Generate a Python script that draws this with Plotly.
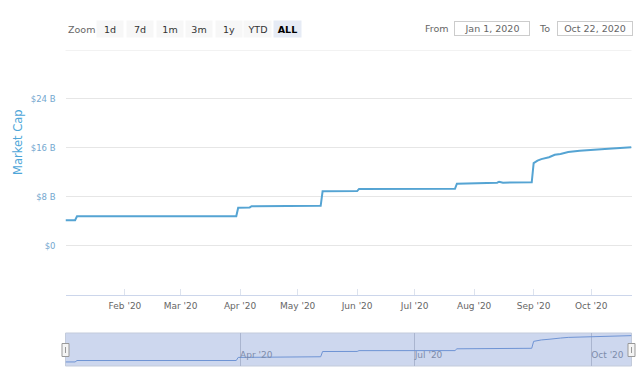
import plotly.graph_objects as go

# ---- data ----
dates = [
    "2020-01-01", "2020-01-06", "2020-01-07", "2020-02-15", "2020-03-15", "2020-03-30",
    "2020-03-31", "2020-04-06", "2020-04-07", "2020-05-13", "2020-05-14", "2020-06-01",
    "2020-06-02", "2020-07-22", "2020-07-23", "2020-08-13", "2020-08-14", "2020-08-16",
    "2020-08-31", "2020-09-01", "2020-09-03", "2020-09-05", "2020-09-09", "2020-09-12",
    "2020-09-15", "2020-09-19", "2020-09-25", "2020-10-01", "2020-10-10", "2020-10-22",
]
market_cap_b = [
    4.14, 4.14, 4.79, 4.80, 4.78, 4.80,
    6.20, 6.25, 6.45, 6.50, 8.88, 8.92,
    9.28, 9.30, 10.12, 10.30, 10.45, 10.30,
    10.35, 13.50, 13.90, 14.15, 14.45, 14.85,
    15.00, 15.30, 15.50, 15.67, 15.84, 16.10,
]
y_tickvals = [0, 8, 16, 24]
y_ticktext = ["$0", "$8 B", "$16 B", "$24 B"]
y_max = 32
x_tickvals = ["2020-02-01", "2020-03-01", "2020-04-01", "2020-05-01", "2020-06-01",
              "2020-07-01", "2020-08-01", "2020-09-01", "2020-10-01"]
nav_tickvals = ["2020-04-01", "2020-07-01", "2020-10-01"]
zoom_buttons = ["1d", "7d", "1m", "3m", "1y", "YTD", "ALL"]
from_date = "Jan 1, 2020"
to_date = "Oct 22, 2020"
x_range = ["2020-01-01", "2020-10-22"]

W, H = 640, 380
def px(x):
    return x / W
def py(y):
    return 1 - y / H

FONT = "DejaVu Sans"
LINE = "#55a4d3"

x_dom = [px(65.5), px(631.5)]
main_dom = [py(294.5), py(50)]
nav_dom = [py(366), py(333)]

fig = go.Figure()
fig.add_trace(go.Scatter(
    x=dates, y=market_cap_b, mode="lines",
    line=dict(color=LINE, width=2), xaxis="x", yaxis="y",
    hoverinfo="skip", showlegend=False,
))
fig.add_trace(go.Scatter(
    x=dates, y=market_cap_b, mode="lines",
    line=dict(color="#6f94d4", width=1), xaxis="x2", yaxis="y2",
    hoverinfo="skip", showlegend=False,
))

shapes = [
    # top gridline of the value axis
    dict(type="line", xref="x domain", yref="y", x0=0, x1=1, y0=y_max, y1=y_max,
         line=dict(color="#e6e6e6", width=1), layer="below"),
    # navigator mask
    dict(type="rect", xref="x2 domain", yref="y2 domain", x0=0, x1=1, y0=0, y1=1,
         fillcolor="#cdd7ee", line=dict(color="#c3cbdb", width=1), layer="below"),
]
for hx in (65.5, 631.5):
    shapes.append(dict(type="rect", xref="paper", yref="paper",
                       x0=px(hx - 3.5), x1=px(hx + 3.5), y0=py(356.5), y1=py(343.5),
                       fillcolor="#f4f4f4", line=dict(color="#999999", width=1), layer="above"))
    shapes.append(dict(type="line", xref="paper", yref="paper",
                       x0=px(hx), x1=px(hx), y0=py(353), y1=py(347),
                       line=dict(color="#999999", width=1), layer="above"))

def ann(text, x, y, **kw):
    d = dict(text=text, x=px(x), y=py(y), xref="paper", yref="paper",
             showarrow=False, xanchor="center", yanchor="middle")
    d.update(kw)
    return d

annotations = []
annotations.append(ann("Zoom", 81.5, 29.5, font=dict(family=FONT, size=9.5, color="#666666")))
btn_x = [110, 140, 170, 198.5, 228.5, 257.5, 287.5]
btn_w = [24, 24, 24, 24, 24, 25, 25]
for lab, bx, bw in zip(zoom_buttons, btn_x, btn_w):
    active = lab == "ALL"
    annotations.append(ann(
        ("<b>%s</b>" % lab) if active else lab, bx, 29.5, width=bw, height=14,
        bgcolor="#e6ebf5" if active else "#f7f7f7",
        font=dict(family=FONT, size=9.5, color="#000000" if active else "#333333"),
    ))
annotations.append(ann("From", 436.5, 28.5, font=dict(family=FONT, size=9.5, color="#666666")))
annotations.append(ann(from_date, 491.5, 28.5, width=72, height=11,
                       bordercolor="#cccccc", borderwidth=1,
                       font=dict(family=FONT, size=9.5, color="#666666")))
annotations.append(ann("To", 544, 28.5, font=dict(family=FONT, size=9.5, color="#666666")))
annotations.append(ann(to_date, 594.5, 28.5, width=72, height=11,
                       bordercolor="#cccccc", borderwidth=1,
                       font=dict(family=FONT, size=9.5, color="#666666")))
annotations.append(ann("Market Cap", 18, 142, textangle=-90,
                       font=dict(family=FONT, size=11.5, color="#4ea6d8")))

fig.update_layout(
    template="none",
    width=W, height=H, autosize=False,
    margin=dict(l=0, r=0, t=0, b=0, pad=0, autoexpand=False),
    paper_bgcolor="white", plot_bgcolor="rgba(0,0,0,0)",
    font=dict(family=FONT),
    shapes=shapes, annotations=annotations,
    xaxis=dict(
        domain=x_dom, anchor="y", type="date", range=x_range, automargin=False,
        tickvals=x_tickvals, tickformat="%b '%y",
        showgrid=False, zeroline=False,
        showline=True, linecolor="#ccd6eb", linewidth=1,
        ticks="inside", ticklen=6, tickcolor="#dde3ee",
        tickfont=dict(family=FONT, size=9, color="#666666"),
        ticklabelstandoff=3,
        fixedrange=True,
    ),
    yaxis=dict(
        domain=main_dom, anchor="x", range=[-8, y_max], automargin=False,
        tickvals=y_tickvals, ticktext=y_ticktext,
        showgrid=True, gridcolor="#e6e6e6", gridwidth=1,
        zeroline=False, showline=False, ticks="",
        tickfont=dict(family=FONT, size=8.5, color="#74a7cf"),
        ticklabelstandoff=9,
        fixedrange=True,
    ),
    xaxis2=dict(
        domain=x_dom, anchor="y2", type="date", range=x_range, automargin=False,
        tickvals=nav_tickvals, tickformat="%b '%y",
        showgrid=True, gridcolor="#aab5cf", gridwidth=1,
        zeroline=False, showline=False, ticks="",
        ticklabelposition="inside right",
        tickfont=dict(family=FONT, size=9, color="#7d8cab"),
        fixedrange=True,
    ),
    yaxis2=dict(
        domain=nav_dom, anchor="x2", range=[2.3, 17.3], automargin=False,
        showgrid=False, zeroline=False, showline=False,
        showticklabels=False, ticks="", fixedrange=True,
    ),
)

fig.write_html("out.html", config={"displayModeBar": False},
               post_script="document.body.style.margin='0';document.body.style.padding='0';")
